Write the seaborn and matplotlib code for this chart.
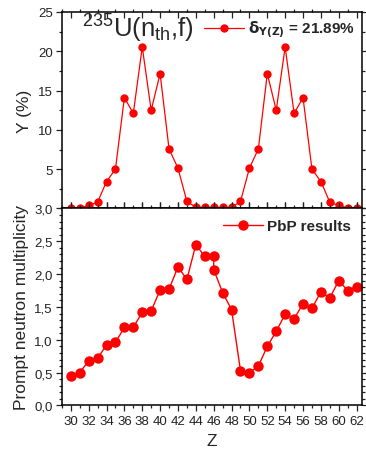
import matplotlib
matplotlib.use("Agg")
import matplotlib.pyplot as plt
from matplotlib.ticker import MultipleLocator, FuncFormatter
import seaborn as sns
import pandas as pd

# fragment charge number
z_yield = list(range(30, 63))
# independent yield Y(Z) in %
yield_pct = [0.05, 0.05, 0.38, 0.8, 3.43, 5.0, 14.1, 12.1, 20.55, 12.5, 17.16,
             7.58, 5.13, 0.89, 0.17, 0.13, 0.13, 0.13, 0.13, 0.89, 5.13, 7.58,
             17.16, 12.5, 20.55, 12.1, 14.1, 5.0, 3.43, 0.8, 0.38, 0.05, 0.05]

# prompt neutron multiplicity (Z=46 appears twice)
z_nu = [30, 31, 32, 33, 34, 35, 36, 37, 38, 39, 40, 41, 42, 43, 44, 45, 46, 46,
        47, 48, 49, 50, 51, 52, 53, 54, 55, 56, 57, 58, 59, 60, 61, 62]
nu_pbp = [0.45, 0.50, 0.68, 0.72, 0.92, 0.96, 1.19, 1.19, 1.42, 1.44, 1.76,
          1.77, 2.11, 1.92, 2.45, 2.27, 2.28, 2.07, 1.72, 1.46, 0.53, 0.50,
          0.60, 0.90, 1.13, 1.39, 1.32, 1.55, 1.48, 1.73, 1.64, 1.90, 1.75, 1.81]

yield_label = r"$\mathbf{\delta_{Y(Z)}}$ = 21.89%"
nu_label = "PbP results"

sns.set_style("ticks")
plt.rcParams["font.family"] = ["Liberation Sans", "DejaVu Sans"]
plt.rcParams["mathtext.default"] = "regular"

df_y = pd.DataFrame({"Z": z_yield, "Y": yield_pct})
df_nu = pd.DataFrame({"Z": z_nu, "nu": nu_pbp})

fig = plt.figure(figsize=(3.66, 4.56), dpi=100)
ax1 = fig.add_axes([0.169, 0.5406, 0.820, 0.4309])
ax2 = fig.add_axes([0.169, 0.1086, 0.820, 0.4320])

red = "#ff0000"
sns.lineplot(data=df_y, x="Z", y="Y", ax=ax1, color=red, marker="o",
             markersize=6, markeredgewidth=0, linewidth=0.9,
             estimator=None, sort=False, label=yield_label)
sns.lineplot(data=df_nu, x="Z", y="nu", ax=ax2, color=red, marker="o",
             markersize=7.5, markeredgewidth=0, linewidth=1.0,
             estimator=None, sort=False, label=nu_label)

for ax in (ax1, ax2):
    ax.set_xlim(29.0, 62.6)
    ax.xaxis.set_major_locator(MultipleLocator(2))
    ax.xaxis.set_minor_locator(MultipleLocator(1))
    ax.tick_params(which="both", top=True, right=True, labelsize=9.5,
                   width=0.9, colors="#222222", pad=2.5)
    ax.tick_params(which="major", length=4)
    ax.tick_params(which="minor", length=2.5)
    for s in ax.spines.values():
        s.set_linewidth(1.1)
        s.set_color("black")

ax1.tick_params(axis="x", direction="in", labelbottom=False)
ax1.set_ylim(0, 25)
ax1.set_yticks([5, 10, 15, 20, 25])
ax1.yaxis.set_minor_locator(MultipleLocator(2.5))
ax1.set_xlabel("")
ax1.set_ylabel("Y (%)", fontsize=12.5)
ax1.text(0.068, 1.0, r"$^{235}$U(n$_{th}$,f)", transform=ax1.transAxes,
         fontsize=18.5, va="top", ha="left")
ax1.legend(loc="upper right", frameon=False, handlelength=2.6,
           borderaxespad=0.15, handletextpad=0.3, borderpad=0.3,
           prop={"weight": "bold", "size": 11})

ax2.set_ylim(0, 3.0)
ax2.yaxis.set_major_locator(MultipleLocator(0.5))
ax2.yaxis.set_minor_locator(MultipleLocator(0.1))
ax2.yaxis.set_major_formatter(FuncFormatter(lambda v, p: f"{v:.1f}".replace(".", ",")))
ax2.tick_params(axis="x", direction="out")
ax2.set_xlabel("Z", fontsize=12.5, labelpad=5)
ax2.set_ylabel("Prompt neutron multiplicity", fontsize=12.5)
ax2.legend(loc="upper right", frameon=False, handlelength=2.6,
           borderaxespad=0.3, handletextpad=0.3,
           prop={"weight": "bold", "size": 11})

fig.align_ylabels([ax1, ax2])
fig.savefig("out.png", dpi=100)
plt.close(fig)
